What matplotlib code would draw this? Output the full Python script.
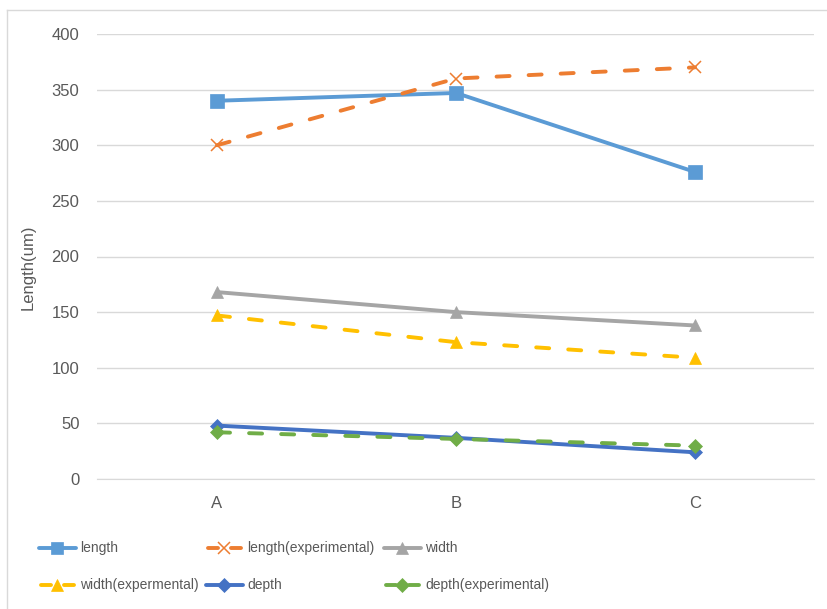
import matplotlib
matplotlib.use("Agg")
import matplotlib.pyplot as plt
from matplotlib.lines import Line2D

plt.rcParams['font.family'] = ['Liberation Sans', 'DejaVu Sans']

categories = ["A", "B", "C"]
length = [340, 347, 276]
length_exp = [300, 360, 370]
width = [168, 150, 138]
width_exp = [147, 123, 109]
depth = [48, 37, 24]
depth_exp = [42, 36, 30]

grey_txt = "#595959"
grid_col = "#d9d9d9"

W, H = 828, 609
fig = plt.figure(figsize=(W / 100, H / 100), dpi=100)
ax = fig.add_axes([97.5 / W, 130 / H, 717 / W, 445 / H])

x = list(range(len(categories)))
dash = (0, (3.35, 4.9))
lw = 2.8

series = [
    ("length", length, "#5B9BD5", "-", "s", 9.5),
    ("length(experimental)", length_exp, "#ED7D31", dash, "x", 9),
    ("width", width, "#A5A5A5", "-", "^", 9),
    ("width(expermental)", width_exp, "#FFC000", dash, "^", 9),
    ("depth", depth, "#4472C4", "-", "D", 7.5),
    ("depth(experimental)", depth_exp, "#70AD47", dash, "D", 7.5),
]

for name, vals, col, ls, mk, ms in series:
    mew = 1.1 if mk == "x" else 0.5
    ax.plot(x, vals, color=col, linestyle=ls, linewidth=lw, marker=mk,
            markersize=ms, markeredgewidth=mew, markeredgecolor=col,
            markerfacecolor=col, dash_capstyle="round", solid_capstyle="round")

ax.set_xlim(-0.5, 2.5)
ax.set_ylim(0, 400)
ax.set_yticks(range(0, 401, 50))
ax.set_xticks(x)
ax.set_xticklabels(categories)
ax.yaxis.grid(True, color=grid_col, linewidth=1)
ax.set_axisbelow(True)
for s in ["top", "right", "left"]:
    ax.spines[s].set_visible(False)
ax.spines["bottom"].set_color(grid_col)
ax.tick_params(axis="both", length=0, colors=grey_txt, labelsize=12)
ax.tick_params(axis="x", pad=12)
ax.tick_params(axis="y", pad=13)
fig.text(28 / W, 1 - 267 / H, "Length(um)", rotation=90, color=grey_txt,
         fontsize=12, ha="center", va="center")

# legend drawn by hand: 3 columns x 2 rows
col_x = [39, 206, 384]
row_y = [548, 585]
hl = 37
for i, (name, vals, col, ls, mk, ms) in enumerate(series):
    x0 = col_x[i % 3]
    yy = 1 - row_y[i // 3] / H
    if ls == "-":
        segs = [(x0, x0 + hl)]
    else:
        segs = [(x0 + 2, x0 + 12), (x0 + hl - 12, x0 + hl - 2)]
    for a, b in segs:
        fig.add_artist(Line2D([a / W, b / W], [yy, yy], color=col, linewidth=lw,
                              solid_capstyle="round"))
    mew = 1.1 if mk == "x" else 0.5
    fig.add_artist(Line2D([(x0 + hl / 2) / W], [yy], marker=mk, markersize=ms * 0.95,
                          color=col, markeredgecolor=col, markeredgewidth=mew,
                          linestyle="none"))
    fig.text((x0 + hl + 4) / W, yy, name, color=grey_txt, fontsize=10,
             ha="left", va="center")

# chart frame: left and top edges
fig.add_artist(Line2D([7.5 / W, 7.5 / W], [0, 1 - 9.5 / H], color=grid_col, linewidth=1))
fig.add_artist(Line2D([7.5 / W, 1], [1 - 9.5 / H, 1 - 9.5 / H], color=grid_col, linewidth=1))

fig.savefig("out.png", dpi=100)
